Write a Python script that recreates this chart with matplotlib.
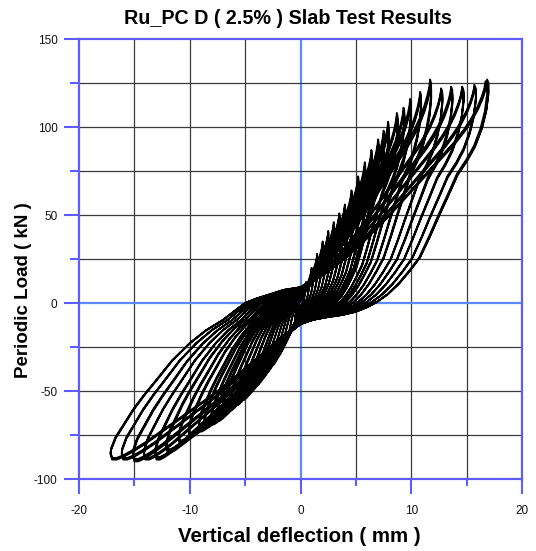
import numpy as np
import matplotlib
matplotlib.use('Agg')
import matplotlib.pyplot as plt
from matplotlib.ticker import MultipleLocator

# outer (largest) loop, starting at the pinch point
loopX = [0.0, 1.0, 2.0, 3.0, 4.0, 5.0, 6.0, 7.0, 8.0, 9.0, 10.0, 11.0, 12.0, 13.0, 14.0, 14.8, 15.5, 16.1, 16.5, 16.75, 16.85,
         16.98, 17.0, 16.8, 16.4, 15.8, 15.1, 14.25, 13.4, 12.6, 11.7, 10.8, 9.9, 8.9, 7.9, 6.9, 6.0, 5.0, 3.8, 2.5, 1.2, 0.0,
         -1.0, -2.0, -3.0, -4.0, -5.0, -6.0, -7.0, -8.0, -9.0, -10.0, -11.0, -12.0, -13.0, -14.0, -15.0, -16.0, -16.6, -17.0,
         -17.15, -17.1, -16.7, -16.0, -15.1, -14.1, -13.0, -11.6, -10.0, -8.5, -7.0, -6.0, -5.0, -4.0, -3.0, -1.5, 0.0]
loopY = [9.0, 12.0, 16.0, 20.5, 25.5, 31.0, 37.0, 43.5, 50.0, 57.0, 64.0, 71.0, 78.0, 85.0, 92.0, 98.5, 105.0, 112.0, 118.0, 123.0, 127.0,
         125.0, 120.0, 110.0, 100.0, 90.0, 82.0, 74.0, 62.0, 51.0, 38.0, 26.0, 18.5, 11.0, 5.0, 0.5, -2.5, -5.0, -6.8, -8.0, -9.5, -12.0,
         -16.0, -21.0, -26.5, -32.0, -37.5, -43.0, -48.0, -53.0, -57.5, -62.0, -66.5, -71.0, -75.5, -80.0, -84.0, -87.5, -89.0, -89.0,
         -86.0, -83.5, -77.0, -70.0, -61.0, -52.5, -44.0, -33.0, -23.0, -15.5, -9.7, -4.8, 0.0, 2.5, 4.5, 7.5, 9.0]
loopPeak = [16.85, 127.0, -17.0, -89.0]

# peaks of each cycle (positive deflection / load, negative deflection / load)
posDefl = [0.5, 0.5, 1.0, 1.0, 1.5, 1.5, 2.0, 2.0, 2.5, 2.5, 3.0, 3.0,
           3.5, 3.5, 3.5, 4.0, 4.0, 4.0, 4.6, 4.6, 4.6, 5.2, 5.2, 5.2,
           5.8, 5.8, 5.8, 6.4, 6.4, 6.4, 7.0, 7.0, 7.0, 7.5, 7.5, 7.5,
           7.9, 7.9, 7.9, 8.7, 8.7, 8.7, 9.3, 9.3, 9.3, 9.9, 9.9, 9.9,
           10.8, 10.8, 10.8, 11.7, 11.7, 11.7, 12.7, 12.7, 12.7, 13.6, 13.6, 13.6,
           14.6, 14.6, 14.6, 15.7, 15.7, 15.7, 16.7, 16.85, 16.8]
posLoad = [12, 11, 20, 19, 28, 27, 35, 34, 41, 40, 46, 45,
           51, 50, 49, 56, 55, 54, 64, 62, 61, 72, 70, 69,
           80, 78, 77, 87, 85, 84, 93, 91, 90, 98, 96, 95,
           103, 100, 99, 108, 106, 105, 111, 109, 108, 116, 113, 112,
           120, 118, 117, 127, 124, 123, 122, 121, 120, 123, 121, 120,
           123, 122, 121, 124, 123, 122, 126, 127, 125]
negDefl = [-0.5, -0.5, -1.0, -1.0, -1.5, -1.5, -2.0, -2.0, -2.5, -2.5, -3.0, -3.0,
           -3.5, -3.5, -3.5, -4.0, -4.0, -4.0, -4.6, -4.6, -4.6, -5.2, -5.2, -5.2,
           -5.8, -5.8, -5.8, -6.4, -6.4, -6.4, -7.0, -7.0, -7.0, -7.5, -7.5, -7.5,
           -8.0, -8.0, -8.0, -8.6, -8.6, -8.6, -9.1, -9.1, -9.1, -10.0, -10.0, -10.0,
           -10.9, -10.9, -10.9, -12.0, -12.0, -12.0, -13.0, -13.0, -13.0, -14.0, -14.0, -14.0,
           -15.0, -15.0, -15.0, -16.0, -16.0, -16.0, -17.0, -17.0, -17.0]
negLoad = [-10, -9, -18, -17, -24, -23, -30, -29, -35, -34, -39, -38,
           -43, -42, -41, -47, -46, -45, -51, -50, -49, -55, -54, -53,
           -58, -57, -56, -61, -60, -59, -64, -63, -62, -67, -66, -65,
           -69, -68, -67, -71, -70, -69, -73, -72, -71, -76, -75, -74,
           -80, -79, -78, -85, -84, -83, -89, -88, -87.5, -89, -88.5, -88,
           -90, -89, -88.5, -89, -88.5, -88, -88, -89, -88.5]

xTicks = [-20, -10, 0, 10, 20]
yTicks = [-100, -50, 0, 50, 100, 150]

blue = '#5c5cff'
zeroBlue = '#5b8cff'
gridCol = '#3a3a3a'

plt.rcParams['font.family'] = ['Liberation Sans', 'DejaVu Sans']
plt.rcParams['axes.unicode_minus'] = False

fig = plt.figure(figsize=(5.36, 5.51), dpi=100)
ax = fig.add_axes([79/536, 1-479/551, 443/536, 440/551])

lx = np.array(loopX)
ly = np.array(loopY)
xs, ys = [], []
for i in range(len(posDefl)):
    # scale the outer loop to the peaks of this cycle, quadrant by quadrant
    sx = np.where(lx >= 0, posDefl[i] / loopPeak[0], negDefl[i] / loopPeak[2])
    sy = np.where(ly >= 0, posLoad[i] / loopPeak[1], negLoad[i] / loopPeak[3])
    xs.extend(lx * sx)
    ys.extend(ly * sy)

ax.set_xlim(-20, 20)
ax.set_ylim(-100, 150)

for gx in np.arange(-15, 20, 5):
    ax.axvline(gx, color=zeroBlue if gx == 0 else gridCol, lw=1.6 if gx == 0 else 0.9, zorder=1)
for gy in np.arange(-75, 150, 25):
    ax.axhline(gy, color=zeroBlue if gy == 0 else gridCol, lw=1.6 if gy == 0 else 0.9, zorder=1)

ax.plot(xs, ys, color='black', lw=1.3, zorder=3)

ax.xaxis.set_major_locator(MultipleLocator(10))
ax.xaxis.set_minor_locator(MultipleLocator(5))
ax.yaxis.set_major_locator(MultipleLocator(50))
ax.yaxis.set_minor_locator(MultipleLocator(25))
ax.set_xticks(xTicks)
ax.set_yticks(yTicks)
ax.tick_params(which='major', direction='out', length=10.5, width=1.5, color=blue,
               labelsize=8.5, labelcolor='#111111')
ax.tick_params(axis='x', which='major', pad=8)
ax.tick_params(axis='y', which='major', pad=5)
ax.tick_params(axis='y', which='minor', direction='out', length=6.5, width=1.5, color=blue)
ax.tick_params(axis='x', which='minor', direction='out', length=5, width=1.5, color=blue)
for s in ax.spines.values():
    s.set_color(blue)
    s.set_linewidth(1.6)

fig.text(288/536, 1-19/551, 'Ru_PC D ( 2.5% ) Slab Test Results', ha='center', va='center',
         fontsize=14.2, fontweight='bold')
fig.text(299/536, 1-536/551, 'Vertical deflection ( mm )', ha='center', va='center',
         fontsize=14.8, fontweight='bold')
fig.text(23.5/536, 1-290/551, 'Periodic Load ( kN )', ha='center', va='center', rotation=90,
         fontsize=13.5, fontweight='bold')

fig.savefig('out.png', dpi=100)
